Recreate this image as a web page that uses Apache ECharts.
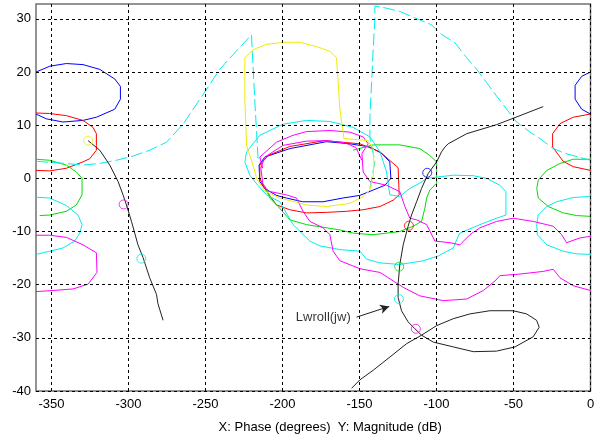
<!DOCTYPE html>
<html><head><meta charset="utf-8">
<script src="https://cdn.jsdelivr.net/npm/echarts@6/dist/echarts.min.js"></script>
<style>html,body{margin:0;padding:0;background:#fff}#c{width:601px;height:439px}</style>
</head><body><div id="c"></div>
<script>
// Axis ticks
const xTicks = [-350,-300,-250,-200,-150,-100,-50,0];
const yTicks = [-40,-30,-20,-10,0,10,20,30];

// Bounds (phase deg, magnitude dB)
const blueLeft = [[-360,20],[-351,21.1],[-340.3,21.6],[-329.5,21.4],[-318.6,20.5],[-308.9,18.7],[-305.2,17.3],[-305.2,14.9],[-308.9,13.0],[-320.8,11.5],[-329.5,10.9],[-342.5,10.6],[-353.3,11.2],[-360,12.1]];
const blueRight = [[0,20],[-5.7,19.2],[-10,17.5],[-10,14.9],[-5.7,13.0],[0,12.1]];
const blueCenter = [[-211.5,4.0],[-195.2,5.6],[-171.4,6.9],[-156.2,6.5],[-143.2,5.9],[-135.6,4.7],[-130.3,3.1],[-129.6,0],[-133.5,-1.3],[-141.1,-2.2],[-149.7,-3.2],[-160.8,-3.7],[-173.6,-4.4],[-186.8,-4.4],[-197.4,-3.7],[-203.9,-3.2],[-211.5,-1.9],[-214.7,-0.6],[-215.2,2.5],[-211.5,4.0]];

const redLeft = [[-360,12.3],[-351.1,12.2],[-340.3,11.8],[-329.5,10.9],[-323,9.6],[-320.8,8.4],[-320.8,6.2],[-320.8,5.3],[-325.1,3.7],[-329.5,3.1],[-340.3,1.9],[-351.1,1.4],[-360,1.5]];
const redRight = [[0,12.1],[-11.2,11.5],[-19.8,10.3],[-24.6,8.4],[-24.6,5.9],[-24.2,5.6],[-17.7,3.2],[-11.2,2.2],[0,1.5]];
const redCenter = [[-209.3,4.3],[-195.2,6.0],[-172.5,7.1],[-149.7,6.5],[-136.7,5.0],[-124.9,2.0],[-124.2,-3.1],[-128.1,-4.1],[-136.7,-5.3],[-147.6,-5.9],[-158.4,-6.2],[-171.4,-6.4],[-184.4,-6.5],[-195.2,-5.9],[-203.9,-5.0],[-211.5,-1.9],[-214.7,0],[-214.7,2.5],[-209.3,4.3]];

const greenLeft = [[-360,3.6],[-351.1,3.4],[-340.3,2.5],[-333.8,1.2],[-330.1,0],[-330.1,-3.1],[-333.8,-5.0],[-340.3,-6.2],[-351.1,-6.9],[-357.6,-7.0]];
const greenRight = [[0,3.6],[-11.2,3.6],[-19.8,2.8],[-28.4,1.5],[-33.9,-0.3],[-34.9,-1.9],[-33.9,-3.7],[-27.4,-5.3],[-17.7,-6.5],[-9,-7.0],[0,-7.15]];
const greenCenter = [[-210.4,-2.2],[-208.2,-3.7],[-202.8,-5.3],[-195.2,-7.8],[-184.4,-8.7],[-173.6,-9.2],[-162.7,-9.7],[-154.1,-10.3],[-141.1,-10.6],[-132.4,-10.3],[-123.8,-10.0],[-115.1,-9.0],[-109.7,-8.1],[-107.5,-5.6],[-106.4,-3.7],[-104.3,-2.2],[-99.9,-0.9],[-99.9,3.1],[-104.3,4.3],[-110.8,5.6],[-123.8,6.3],[-141.1,6.3],[-154.1,5.3]];

const cyanLeft = [[-360,-3.55],[-351.1,-3.7],[-340.3,-5.1],[-332.7,-6.9],[-330.1,-8.7],[-331.6,-10.3],[-334.9,-11.8],[-342.5,-13.1],[-351.1,-13.7],[-359.8,-14.3]];
const cyanRight = [[0,-3.4],[-11.2,-3.6],[-22,-4.4],[-28.4,-5.3],[-33.9,-6.9],[-34.9,-8.7],[-34.5,-10.6],[-28.4,-12.5],[-17.7,-13.7],[-9,-14.2],[0,-14.3]];
const cyanCenter = [[-224.4,3.1],[-223.3,5.0],[-214.7,8.1],[-199.6,10.2],[-184.4,10.9],[-169.2,10.7],[-154.1,9.6],[-143.2,7.8],[-136.7,5.0],[-132.4,1.2],[-130.3,-3.1],[-123.8,-3.4],[-117.3,-1.9],[-110.8,-0.9],[-106.4,0],[-89.1,0.6],[-76.1,0.5],[-67.4,0],[-58.8,-1.3],[-54.9,-2.5],[-54.9,-6.9],[-61,-7.5],[-71.8,-8.7],[-84.8,-10.3],[-85.9,-10.9],[-89.1,-13.1],[-98.9,-14.6],[-108.6,-15.5],[-123.8,-16.2],[-136.7,-15.9],[-145.4,-15.2],[-149.7,-13.7],[-162.7,-13.4],[-175.7,-12.7],[-182.2,-11.8],[-193.1,-8.7],[-201.7,-4.4],[-210.4,-3.1],[-216,-1.3],[-221.2,0.6],[-224.4,3.1]];
const cyanDashA = [[-360,3.2],[-340.3,2.8],[-329.5,2.5],[-318.6,2.8],[-307.8,3.4],[-297,4.2],[-286.2,5.3],[-275.3,6.8],[-264.5,10.2],[-251.5,15.8],[-240.7,20.5],[-232,23.3],[-220.1,27.0],[-219.1,21.1],[-218,14.9],[-216.8,8.7],[-215.8,3.7]];
const cyanDashB = [[-143.2,-1.9],[-140,3.2],[-143.2,7.5],[-143.2,11.8],[-142.1,18.0],[-141.1,24.2],[-140,29.8],[-140,32.4],[-136.7,32.3],[-132.4,32.0],[-123.8,31.4],[-110.8,29.8],[-103.2,28.9],[-97.8,27.3],[-88,25.5],[-80.4,22.7],[-73.9,20.5],[-67.4,18.0],[-61,15.5],[-54.4,13.0],[-48,10.6],[-39.3,8.7],[-32.8,7.5],[-24.2,5.6],[-16.6,4.7],[0,3.4]];

const magentaLeft = [[-360,-10.7],[-351.1,-10.7],[-340.3,-11.1],[-329.5,-12.5],[-320.8,-14.0],[-320.4,-17.7],[-326.2,-19.9],[-335.9,-20.8],[-348.9,-21.1],[-360,-21.3]];
const magentaUpper = [[-212.8,1.9],[-214.7,4.0],[-203.9,6.8],[-193.1,8.1],[-184.4,8.8],[-169.2,9.0],[-156.2,8.7],[-147.6,7.8],[-144.3,6.5],[-148.4,4.7],[-147.6,1.2],[-143.2,-0.6],[-132.4,-1.3],[-123.8,-2.5],[-120.5,-5.3],[-117.3,-7.5],[-112.9,-7.8],[-106.4,-8.7],[-101,-11.8],[-91.3,-12.1],[-84.8,-12.5],[-78.3,-10.6],[-71.8,-9.3],[-61,-8.1],[-50.2,-7.5],[-37.2,-8.1],[-24.2,-9.0],[-18.7,-10.6],[-15.5,-12.1],[-6.8,-11.2],[0,-10.9]];
const magentaLower = [[-148.4,3.4],[-152.3,5.8],[-159.5,6.7],[-171.4,7.1],[-184.4,7.0],[-199.6,6.2],[-211.5,4.0],[-214,1.9],[-212.8,-0.9],[-209.5,-2.4],[-197.4,-3.1],[-190.9,-3.7],[-186.6,-6.2],[-182.2,-8.1],[-173.6,-9.3],[-169.2,-10.6],[-167.1,-13.7],[-162.7,-15.5],[-149.7,-17.0],[-136.7,-17.7],[-121.6,-20.5],[-110.8,-22.1],[-95.6,-23.0],[-80.4,-22.7],[-69.6,-21.1],[-62,-19.3],[-58.8,-18.3],[-45.8,-18.0],[-30.7,-17.5],[-24.2,-17.1],[-19.8,-18.7],[-11.2,-20.2],[0,-21.1]];

const yellowCenter = [[-224.4,22.7],[-219.1,24.2],[-210.4,25.2],[-199.6,25.6],[-188.7,25.6],[-177.9,24.8],[-169.2,23.9],[-164.9,22.7],[-163.8,18.0],[-162.7,13.0],[-160.6,8.7],[-160.1,7.5],[-144.5,7.1],[-141.1,5.6],[-140.6,2.8],[-141.1,0.6],[-143.2,-2.2],[-147.6,-3.4],[-156.2,-4.7],[-171.4,-5.3],[-184.4,-5.0],[-201.7,-3.7],[-211.5,-2.4],[-216.8,0],[-219.1,2.5],[-223.3,6.2],[-224.4,14.9],[-224.4,22.7]];

// Open-loop response Lwroll(jw)
const lwrollA = [[-326.2,7.1],[-318.6,5.3],[-312.1,2.5],[-306.7,-0.6],[-303.5,-3.1],[-301.3,-5.0],[-298,-8.1],[-293.8,-12.5],[-290.5,-14.9],[-286.2,-18.7],[-281.8,-21.8],[-280.8,-23.6],[-277.5,-26.7]];
const lwrollB = [[-30.7,13.5],[-50.2,11.3],[-61,10.1],[-80.4,8.4],[-92.4,6.5],[-94.5,5.9],[-96.7,5.0],[-99.9,3.1],[-105.4,0.9],[-109.7,-1.9],[-112.9,-4.4],[-116.2,-6.9],[-118.4,-9.0],[-121.6,-12.5],[-123.8,-16.2],[-124.9,-19.9],[-124.9,-22.4],[-122.7,-24.9],[-118.4,-27.0],[-114,-28.3],[-109.7,-29.5],[-99.9,-27.7],[-89.1,-26.4],[-78.3,-25.5],[-65.3,-24.9],[-50.2,-24.9],[-41.5,-25.5],[-35,-26.7],[-33.3,-28.0],[-37.2,-29.8],[-49,-31.7],[-61,-32.5],[-76.1,-32.6],[-89.1,-31.7],[-102.1,-30.8],[-109.7,-29.5],[-119.4,-31.1],[-130.2,-33.6],[-141.1,-36.1],[-149.7,-37.9],[-155.1,-39.5]];

// Frequency markers on Lwroll(jw)
const markerPts = [[-326.2,7.1],[-303.1,-4.9],[-291.6,-15.1],[-106,1.05],[-117.9,-8.9],[-124.2,-16.6],[-124.4,-22.7],[-113.4,-28.3]];
const markerNames = ['yellow','magenta','cyan','blue','red','green','cyan','magenta'];

// Annotation
const annoLabel = 'Lwroll(jw)';
const annoTextPos = [-173.5,-26.1];
const annoArrow = [[-151.9,-26.1],[-130.7,-24.1]];

const COL = {blue:'#0000ff',red:'#ff0000',green:'#00dd00',cyan:'#00eeee',magenta:'#ff00ff',yellow:'#eeee00',black:'#000000'};

function line(data,color,dashed){
  return {type:'line',data:data,showSymbol:false,symbol:'none',silent:true,animation:false,
    lineStyle:{color:color,width:1,type:dashed?[12,4]:'solid'},z:3};
}
const series = [];
series.push({type:'line',data:[],silent:true,z:1,
  markLine:{silent:true,symbol:['none','none'],label:{show:false},animation:false,
    lineStyle:{color:'#000',width:1,type:[3,3]},
    data:xTicks.map(v=>({xAxis:v})).concat(yTicks.map(v=>({yAxis:v})))}});
series.push(line(blueLeft,COL.blue),line(blueRight,COL.blue),line(blueCenter,COL.blue));
series.push(line(redLeft,COL.red),line(redRight,COL.red),line(redCenter,COL.red));
series.push(line(greenLeft,COL.green),line(greenRight,COL.green),line(greenCenter,COL.green));
series.push(line(cyanLeft,COL.cyan),line(cyanRight,COL.cyan),line(cyanCenter,COL.cyan));
series.push(line(cyanDashA,COL.cyan,true),line(cyanDashB,COL.cyan,true));
series.push(line(magentaLeft,COL.magenta),line(magentaUpper,COL.magenta),line(magentaLower,COL.magenta));
series.push(line(yellowCenter,COL.yellow));
series.push(line(lwrollA,'#222'),line(lwrollB,'#222'));
markerPts.forEach((p,i)=>{
  series.push({type:'scatter',data:[p],symbol:'circle',symbolSize:9,silent:true,z:5,
    itemStyle:{color:'rgba(0,0,0,0)',borderColor:COL[markerNames[i]],borderWidth:1}});
});
series.push({type:'scatter',data:[annoTextPos],symbolSize:1,silent:true,z:6,
  itemStyle:{color:'rgba(0,0,0,0)'},
  label:{show:true,position:'inside',formatter:annoLabel,color:'#000',fontSize:13,fontFamily:'Liberation Sans, Arial, sans-serif'},
  markLine:{silent:true,symbol:['none','arrow'],symbolSize:[7,9],label:{show:false},animation:false,
    lineStyle:{color:'#222',width:1,type:'solid'},
    data:[[{coord:annoArrow[0]},{coord:annoArrow[1]}]]}});

const chart = echarts.init(document.getElementById('c'),null,{renderer:'canvas'});
chart.setOption({
  animation:false,
  backgroundColor:'#fff',
  grid:{left:36,right:10.5,top:4,bottom:44.5,show:true,borderColor:'#707070',borderWidth:1.5,backgroundColor:'transparent'},
  xAxis:{type:'value',min:-360,max:0,
    name:'X: Phase (degrees)  Y: Magnitude (dB)',nameLocation:'middle',nameGap:30,
    nameTextStyle:{color:'#000',fontSize:13,fontFamily:'Liberation Sans, Arial, sans-serif',padding:[0,0,0,34]},
    axisLine:{show:false},axisTick:{show:false},splitLine:{show:false},
    axisLabel:{customValues:xTicks,color:'#000',fontSize:13,margin:7,fontFamily:'Liberation Sans, Arial, sans-serif'}},
  yAxis:{type:'value',min:-40,max:32.8,
    axisLine:{show:false},axisTick:{show:false},splitLine:{show:false},
    axisLabel:{customValues:yTicks,color:'#000',fontSize:13,margin:5,fontFamily:'Liberation Sans, Arial, sans-serif'}},
  series:series
});
</script></body></html>
